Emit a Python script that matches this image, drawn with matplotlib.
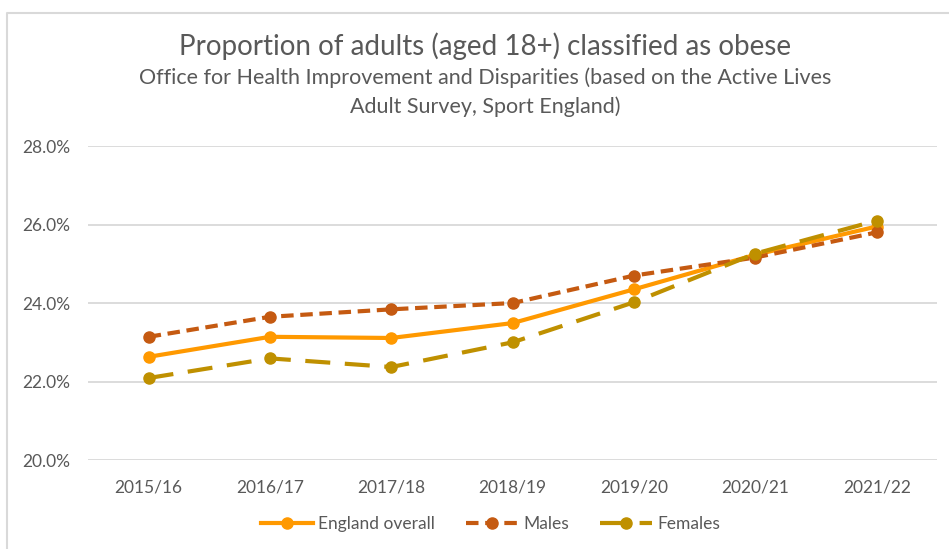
import matplotlib.pyplot as plt
from matplotlib.lines import Line2D
from matplotlib.ticker import FuncFormatter

years = ["2015/16", "2016/17", "2017/18", "2018/19", "2019/20", "2020/21", "2021/22"]
england = [22.63, 23.14, 23.11, 23.49, 24.35, 25.23, 25.95]
males = [23.14, 23.65, 23.84, 24.0, 24.70, 25.16, 25.80]
females = [22.09, 22.59, 22.37, 23.0, 24.02, 25.26, 26.10]

plt.rcParams["font.family"] = ["Lato", "DejaVu Sans"]
text_col = "#595959"

fig = plt.figure(figsize=(9.49, 5.49), dpi=100)
ax = fig.add_axes([0.0927, 0.162, 0.895, 0.572])

x = range(len(years))
ax.plot(x, england, color="#FF9900", lw=3, marker="o", ms=8, label="England overall", zorder=3)
ax.plot(x, males, color="#C55A11", lw=3, ls=(0, (3, 1.6)), marker="o", ms=8, label="Males", zorder=4)
ax.plot(x, females, color="#BF9000", lw=3, ls=(0, (6, 3.5)), marker="o", ms=8, label="Females", zorder=5)

ax.set_xlim(-0.5, len(years) - 0.5)
ax.set_ylim(20, 28)
ax.set_yticks([20, 22, 24, 26, 28])
ax.yaxis.set_major_formatter(FuncFormatter(lambda v, p: f"{v:.1f}%"))
ax.set_xticks(list(x))
ax.set_xticklabels(years)
ax.grid(axis="y", color="#D9D9D9", lw=1.3)
ax.set_axisbelow(True)
for s in ax.spines.values():
    s.set_visible(False)
ax.tick_params(length=0, colors=text_col, labelsize=12.5)
ax.tick_params(axis="y", pad=13)
ax.tick_params(axis="x", pad=14)

fig.text(0.511, 0.915, "Proportion of adults (aged 18+) classified as obese",
         ha="center", va="center", fontsize=20, color=text_col)
fig.text(0.511, 0.858, "Office for Health Improvement and Disparities (based on the Active Lives",
         ha="center", va="center", fontsize=15.5, color=text_col)
fig.text(0.511, 0.806, "Adult Survey, Sport England)",
         ha="center", va="center", fontsize=15.5, color=text_col)

leg = fig.legend(loc="center", bbox_to_anchor=(0.517, 0.045), ncol=3, frameon=False,
                 fontsize=12.5, handlelength=3.0, columnspacing=1.8, handletextpad=0.3)
for t in leg.get_texts():
    t.set_color(text_col)

bx, by = 7 / 949, 1 - 13 / 549
fig.add_artist(Line2D([bx, bx, 1.01], [-0.01, by, by], transform=fig.transFigure,
                      color="#D9D9D9", lw=1.5))

fig.savefig("out.png", dpi=100)
